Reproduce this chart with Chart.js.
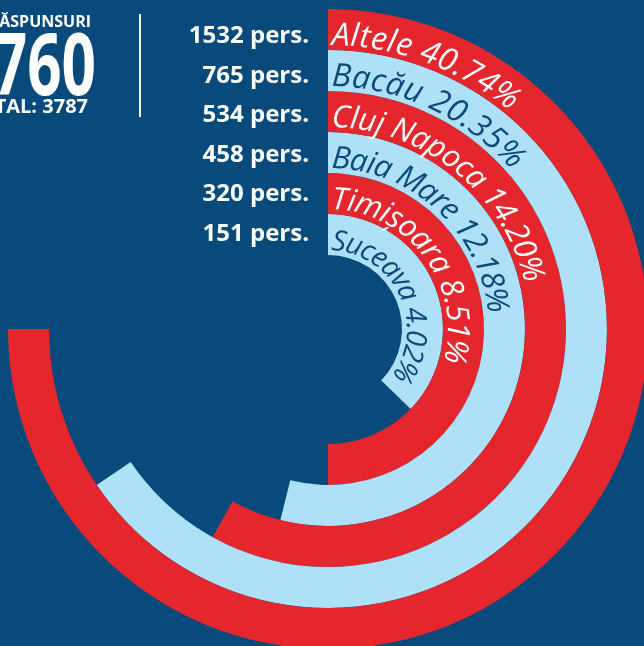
<!DOCTYPE html>
<html><head><meta charset="utf-8">
<script src="https://cdn.jsdelivr.net/npm/chart.js@4/dist/chart.umd.min.js"></script>
<style>
html,body{margin:0;padding:0;background:#074a7b;overflow:hidden;}
#c{display:block;}
</style></head><body>
<canvas id="c" width="644" height="646"></canvas>
<script>
// ---- data ----
const categories = ['Altele', 'Bacău', 'Cluj Napoca', 'Baia Mare', 'Timișoara', 'Suceava'];
const percentLabels = ['40.74%', '20.35%', '14.20%', '12.18%', '8.51%', '4.02%'];
const persons = [1532, 765, 534, 458, 320, 151];
const arcSweepDeg = [270, 236, 209, 194, 180, 134]; // sweep of each ring as drawn
const headerText = 'RĂSPUNSURI';
const responsesText = '3760';
const totalText = 'TOTAL: 3787';

// ---- style ----
const RED = '#e5262d', LIGHT = '#aee0f7', BG = '#074a7b', DARKTXT = '#0b4a7c';
const ringColors = categories.map((_, i) => i % 2 === 0 ? RED : LIGHT);
const textColors = categories.map((_, i) => i % 2 === 0 ? '#ffffff' : DARKTXT);
const ringFontPx = [32, 32, 31, 31, 31, 28.5];
const ringTracking = [1, 1.2, 0.4, 0, 0.65, 0.4];

const arcTextPlugin = {
  id: 'arcText',
  afterDatasetsDraw(chart) {
    const ctx = chart.ctx;
    chart.data.datasets.forEach((ds, i) => {
      const arc = chart.getDatasetMeta(i).data[0];
      const { x, y, innerRadius } = arc.getProps(['x', 'y', 'innerRadius'], true);
      const r = innerRadius + 5;
      const fs = ringFontPx[i];
      const rAdv = r + fs * 0.36;
      const text = categories[i] + ' ' + percentLabels[i];
      ctx.save();
      ctx.font = 'italic 500 ' + fs + 'px "Open Sans"';
      ctx.fillStyle = textColors[i];
      ctx.textAlign = 'center';
      ctx.textBaseline = 'alphabetic';
      let s = 4;
      for (const ch of text) {
        const w = ctx.measureText(ch).width;
        const a = (s + w / 2) / rAdv;
        ctx.save();
        ctx.translate(x, y);
        ctx.rotate(a);
        ctx.fillText(ch, 0, -r);
        ctx.restore();
        s += w + ringTracking[i];
      }
      ctx.restore();
    });
  },
  afterDraw(chart) {
    const ctx = chart.ctx;
    ctx.save();
    ctx.fillStyle = '#ffffff';
    ctx.textAlign = 'right';
    ctx.textBaseline = 'alphabetic';
    ctx.font = 'bold 24px "Open Sans"';
    persons.forEach((p, i) => {
      ctx.fillText(p + ' pers.', 309, 43 + i * 39.5);
    });
    // header block
    ctx.font = 'bold 16px "Open Sans"';
    ctx.fillText(headerText, 91, 27);
    ctx.save();
    ctx.translate(96, 95);
    ctx.scale(0.7, 1);
    ctx.font = 'bold 86px "Open Sans"';
    ctx.fillText(responsesText, 0, 0);
    ctx.restore();
    ctx.font = 'bold 20px "Open Sans"';
    ctx.fillText(totalText, 88, 113);
    ctx.fillRect(139, 14, 2, 103);
    ctx.restore();
  }
};

new Chart(document.getElementById('c'), {
  type: 'doughnut',
  data: {
    labels: categories,
    datasets: categories.map((c, i) => ({
      label: c,
      data: [arcSweepDeg[i], 360 - arcSweepDeg[i]],
      backgroundColor: [ringColors[i], 'rgba(0,0,0,0)'],
      borderWidth: 0
    }))
  },
  options: {
    responsive: false,
    animation: false,
    events: [],
    radius: 320,
    cutout: '23.125%',
    rotation: 0,
    layout: { padding: { left: 12, top: 12, right: 0, bottom: 0 } },
    plugins: { legend: { display: false }, tooltip: { enabled: false } }
  },
  plugins: [arcTextPlugin]
});
</script>
</body></html>
